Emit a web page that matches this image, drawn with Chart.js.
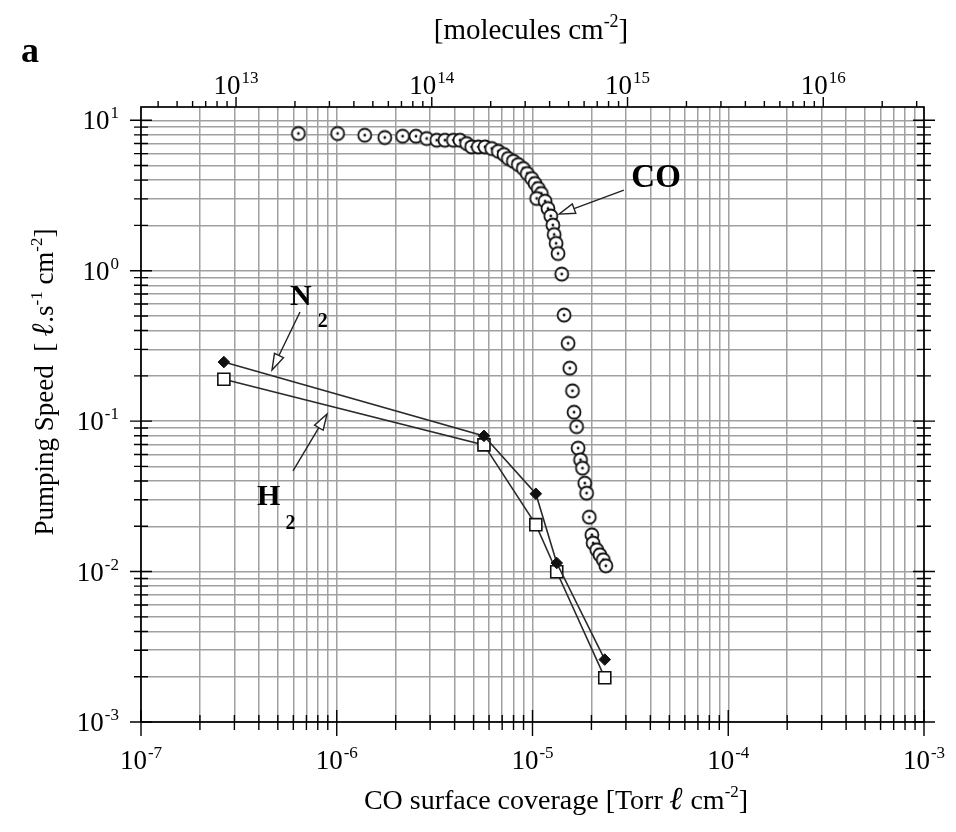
<!DOCTYPE html>
<html>
<head>
<meta charset="utf-8">
<script src="https://cdn.jsdelivr.net/npm/chart.js@4.4.0/dist/chart.umd.min.js"></script>
<style>
  html, body { margin: 0; padding: 0; background: #fff; }
</style>
</head>
<body>
<canvas id="chart" width="956" height="832"></canvas>
<script>
// CO surface coverage [Torr l cm-2] -> pumping speed [l s-1 cm-2]
const coX = [6.37e-7, 1.01e-6, 1.39e-6, 1.76e-6, 2.17e-6, 2.54e-6, 2.88e-6, 3.24e-6, 3.57e-6, 3.94e-6,
  4.26e-6, 4.61e-6, 4.89e-6, 5.29e-6, 5.72e-6, 6.19e-6, 6.69e-6, 7.15e-6, 7.52e-6, 7.98e-6,
  8.46e-6, 8.97e-6, 9.40e-6, 9.91e-6, 1.03e-5, 1.07e-5, 1.11e-5, 1.05e-5, 1.16e-5, 1.20e-5,
  1.24e-5, 1.27e-5, 1.29e-5, 1.32e-5, 1.35e-5, 1.41e-5, 1.45e-5, 1.52e-5, 1.55e-5, 1.60e-5,
  1.63e-5, 1.68e-5, 1.71e-5, 1.76e-5, 1.80e-5, 1.85e-5, 1.89e-5, 1.95e-5, 2.01e-5, 2.04e-5,
  2.13e-5, 2.21e-5, 2.30e-5, 2.37e-5];
const coY = [8.16, 8.16, 7.95, 7.68, 7.83, 7.83, 7.56, 7.37, 7.37, 7.37,
  7.37, 7.00, 6.65, 6.65, 6.65, 6.49, 6.22, 5.92, 5.57, 5.34,
  5.08, 4.78, 4.43, 4.10, 3.80, 3.52, 3.26, 3.02, 2.90, 2.59,
  2.31, 2.01, 1.74, 1.52, 1.30, 0.949, 0.507, 0.329, 0.225, 0.159,
  0.1146, 0.0919, 0.0661, 0.0553, 0.0487, 0.0387, 0.0332, 0.0230, 0.01755, 0.01546,
  0.01396, 0.01293, 0.01198, 0.01093];
const n2X = [2.65e-7, 5.65e-6, 1.04e-5, 1.33e-5, 2.34e-5];
const n2Y = [0.247, 0.0798, 0.0329, 0.0114, 0.00260];
const h2X = [2.65e-7, 5.65e-6, 1.04e-5, 1.33e-5, 2.34e-5];
const h2Y = [0.190, 0.0695, 0.0205, 0.00997, 0.00197];

// axes: decades that get a "10^n" label
const xDecades = [-7, -6, -5, -4, -3];
const yDecades = [-3, -2, -1, 0, 1];
const topDecades = [13, 14, 15, 16];
const molPerTorrL = 3.27e19;   // molecules per Torr l (top axis)
const yMax = 12.25;

const SERIF = '"Liberation Serif", "Times New Roman", serif';

// 1..9 x 10^n ticks between min and max
function logTicks(min, max) {
  const out = [];
  for (let e = Math.floor(Math.log10(min)); e <= Math.ceil(Math.log10(max)); e++) {
    for (let m = 1; m <= 9; m++) {
      const v = m * Math.pow(10, e);
      if (v >= min * 0.9999 && v <= max * 1.0001) out.push(v);
    }
  }
  return out;
}
function isDecade(v) {
  const l = Math.log10(v);
  return Math.abs(l - Math.round(l)) < 1e-6;
}

function zip(xs, ys) { return xs.map((x, i) => ({x: x, y: ys[i]})); }

// circle with a dot, like the CO markers
function dotCircle() {
  const c = document.createElement('canvas');
  c.width = 18; c.height = 18;
  const g = c.getContext('2d');
  g.beginPath(); g.arc(9, 9, 6.5, 0, Math.PI * 2);
  g.fillStyle = '#fff'; g.fill();
  g.lineWidth = 1.8; g.strokeStyle = '#111'; g.stroke();
  g.beginPath(); g.arc(9, 9, 1.4, 0, Math.PI * 2);
  g.fillStyle = '#111'; g.fill();
  return c;
}

// "10" with superscript exponent
function drawPow(ctx, exp, x, y, align) {
  const big = '27px ' + SERIF, small = '17px ' + SERIF;
  ctx.font = big; const w1 = ctx.measureText('10').width;
  ctx.font = small; const w2 = ctx.measureText(exp).width;
  const w = w1 + 1 + w2;
  const x0 = align === 'right' ? x - w : x - w / 2;
  ctx.textAlign = 'left'; ctx.textBaseline = 'alphabetic';
  ctx.font = big; ctx.fillText('10', x0, y);
  ctx.font = small; ctx.fillText(exp, x0 + w1 + 1, y - 11);
}

// text made of parts: {t, sup, sub, bold, size}
function drawRich(ctx, parts, x, y, size, align) {
  const fontOf = p => (p.bold ? 'bold ' : '') + (p.italic ? 'italic ' : '') +
    (p.size || (p.sup || p.sub ? Math.round(size * 0.62) : size)) + 'px ' + SERIF;
  let w = 0;
  parts.forEach(p => { ctx.font = fontOf(p); p.w = ctx.measureText(p.t).width; w += p.w + (p.dx || 0); });
  let cx = align === 'left' ? x : x - w / 2;
  ctx.textAlign = 'left'; ctx.textBaseline = 'alphabetic';
  parts.forEach(p => {
    ctx.font = fontOf(p);
    const dy = p.sup ? -size * 0.42 : (p.sub ? (p.dy || size * 0.3) : 0);
    ctx.fillText(p.t, cx + (p.dx || 0), y + dy);
    cx += p.w + (p.dx || 0);
  });
}

function arrow(ctx, x1, y1, x2, y2) {
  const a = Math.atan2(y2 - y1, x2 - x1);
  const len = 16, half = 5;
  const bx = x2 - len * Math.cos(a), by = y2 - len * Math.sin(a);
  ctx.beginPath(); ctx.moveTo(x1, y1); ctx.lineTo(bx, by);
  ctx.lineWidth = 1.4; ctx.strokeStyle = '#222'; ctx.stroke();
  ctx.beginPath();
  ctx.moveTo(x2, y2);
  ctx.lineTo(bx + half * Math.sin(a), by - half * Math.cos(a));
  ctx.lineTo(bx - half * Math.sin(a), by + half * Math.cos(a));
  ctx.closePath();
  ctx.fillStyle = '#fff'; ctx.fill(); ctx.stroke();
}

const framePlugin = {
  id: 'frame',
  afterDraw(chart) {
    const ctx = chart.ctx, a = chart.chartArea;
    const xs = chart.scales.x, ys = chart.scales.y, xt = chart.scales.x2;
    ctx.save();
    ctx.strokeStyle = '#000'; ctx.fillStyle = '#000';
    ctx.lineWidth = 1.7;
    ctx.strokeRect(a.left, a.top, a.right - a.left, a.bottom - a.top);

    ctx.lineWidth = 1.4;
    ctx.beginPath();
    xs.ticks.forEach(t => {
      const px = xs.getPixelForValue(t.value), big = isDecade(t.value);
      ctx.moveTo(px, a.bottom - (big ? 12 : 7));
      ctx.lineTo(px, a.bottom + (big ? 14 : 8));
    });
    ys.ticks.forEach(t => {
      const py = ys.getPixelForValue(t.value), big = isDecade(t.value);
      ctx.moveTo(a.left - (big ? 11 : 7), py); ctx.lineTo(a.left + (big ? 11 : 7), py);
      ctx.moveTo(a.right - (big ? 11 : 7), py); ctx.lineTo(a.right + (big ? 11 : 7), py);
    });
    logTicks(xt.min, xt.max).forEach(v => {
      const px = xt.getPixelForValue(v);
      ctx.moveTo(px, a.top); ctx.lineTo(px, a.top - (isDecade(v) ? 10 : 6));
    });
    ctx.stroke();

    // tick labels
    xDecades.forEach(e => drawPow(ctx, String(e), xs.getPixelForValue(Math.pow(10, e)), a.bottom + 47, 'center'));
    yDecades.forEach(e => drawPow(ctx, String(e), a.left - 22, ys.getPixelForValue(Math.pow(10, e)) + 9, 'right'));
    topDecades.forEach(e => drawPow(ctx, String(e), xt.getPixelForValue(Math.pow(10, e)), a.top - 13, 'center'));

    // axis titles
    drawRich(ctx, [{t: 'CO surface coverage [Torr '}, {t: 'ℓ', bold: true, italic: true, size: 32},
      {t: ' cm'}, {t: '-2', sup: true}, {t: ']'}], 556, 809, 28, 'center');
    drawRich(ctx, [{t: '[molecules cm'}, {t: '-2', sup: true}, {t: ']'}], 531, 39, 29, 'center');
    ctx.save();
    ctx.translate(53, 382); ctx.rotate(-Math.PI / 2);
    drawRich(ctx, [{t: 'Pumping Speed  [ '}, {t: 'ℓ', bold: true, italic: true, size: 31},
      {t: '.s'}, {t: '-1', sup: true}, {t: ' cm'}, {t: '-2', sup: true}, {t: ']'}], 0, 0, 27, 'center');
    ctx.restore();

    ctx.font = 'bold 36px ' + SERIF; ctx.textAlign = 'left';
    ctx.fillText('a', 21, 62);

    // annotations, placed in data coordinates
    const P = (x, y) => [xs.getPixelForValue(x), ys.getPixelForValue(y)];
    let s = P(2.93e-5, 3.43), t = P(1.366e-5, 2.376);
    arrow(ctx, s[0], s[1], t[0], t[1]);
    s = P(6.49e-7, 0.531); t = P(4.67e-7, 0.2188);
    arrow(ctx, s[0], s[1], t[0], t[1]);
    s = P(5.98e-7, 0.0467); t = P(8.92e-7, 0.1116);
    arrow(ctx, s[0], s[1], t[0], t[1]);

    ctx.fillStyle = '#000';
    let c = P(4.28e-5, 4.12);
    ctx.font = 'bold 33px ' + SERIF; ctx.textAlign = 'center'; ctx.textBaseline = 'middle';
    ctx.fillText('CO', c[0], c[1]);
    c = P(6.57e-7, 0.699);
    drawRich(ctx, [{t: 'N', bold: true}, {t: '2', bold: true, sub: true, size: 20, dx: 6, dy: 22}], c[0] - 11, c[1] + 11, 30, 'left');
    c = P(4.51e-7, 0.03285);
    drawRich(ctx, [{t: 'H', bold: true}, {t: '2', bold: true, sub: true, size: 20, dx: 5, dy: 24}], c[0] - 12, c[1] + 11, 30, 'left');
    ctx.restore();
  }
};

const gridStyle = {color: '#a0a0a0', lineWidth: 1.5, drawTicks: false};

new Chart(document.getElementById('chart'), {
  type: 'scatter',
  data: {
    datasets: [
      {
        label: 'N2', data: zip(n2X, n2Y), showLine: true,
        borderColor: '#2a2a2a', borderWidth: 1.6,
        pointStyle: 'rectRot', pointRadius: 5.8, pointBackgroundColor: '#111', pointBorderColor: '#111', pointBorderWidth: 1
      },
      {
        label: 'H2', data: zip(h2X, h2Y), showLine: true,
        borderColor: '#2a2a2a', borderWidth: 1.6,
        pointStyle: 'rect', pointRadius: 8.5, pointBackgroundColor: '#fff', pointBorderColor: '#111', pointBorderWidth: 1.6
      },
      {
        label: 'CO', data: zip(coX, coY), showLine: false,
        pointStyle: dotCircle(), pointRadius: 7
      }
    ]
  },
  options: {
    responsive: false,
    animation: false,
    layout: {padding: {left: 141, right: 32, top: 107, bottom: 110}},
    plugins: {legend: {display: false}, tooltip: {enabled: false}},
    scales: {
      x: {
        type: 'logarithmic', position: 'bottom', min: 1e-7, max: 1e-3,
        grid: gridStyle, border: {display: false}, ticks: {display: false},
        afterBuildTicks: s => { s.ticks = logTicks(1e-7, 1e-3).map(v => ({value: v})); }
      },
      x2: {
        type: 'logarithmic', position: 'top', min: 1e-7 * molPerTorrL, max: 1e-3 * molPerTorrL,
        grid: {display: false, drawTicks: false}, border: {display: false}, ticks: {display: false}
      },
      y: {
        type: 'logarithmic', min: 1e-3, max: yMax,
        grid: gridStyle, border: {display: false}, ticks: {display: false},
        afterBuildTicks: s => { s.ticks = logTicks(1e-3, yMax).map(v => ({value: v})); }
      }
    }
  },
  plugins: [framePlugin]
});
</script>
</body>
</html>
